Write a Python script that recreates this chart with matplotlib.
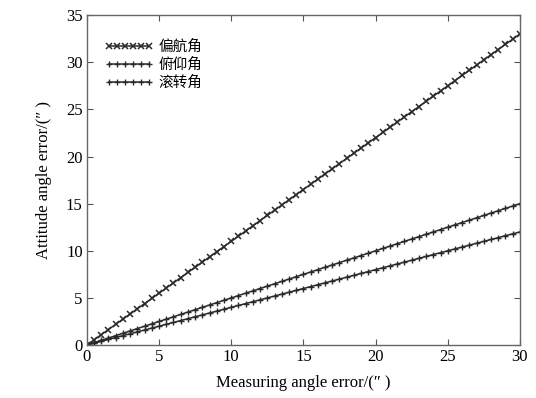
import matplotlib
matplotlib.use('Agg')
import matplotlib.pyplot as plt

plt.rcParams['font.family'] = ['Liberation Serif', 'Noto Sans CJK SC', 'DejaVu Sans']

# measuring angle error (″)
x = [0, 0.5, 1, 1.5, 2, 2.5, 3, 3.5, 4, 4.5, 5, 5.5, 6, 6.5, 7, 7.5, 8, 8.5, 9, 9.5,
     10, 10.5, 11, 11.5, 12, 12.5, 13, 13.5, 14, 14.5, 15, 15.5, 16, 16.5, 17, 17.5,
     18, 18.5, 19, 19.5, 20, 20.5, 21, 21.5, 22, 22.5, 23, 23.5, 24, 24.5, 25, 25.5,
     26, 26.5, 27, 27.5, 28, 28.5, 29, 29.5, 30]

# attitude angle error (″)
yaw = [0, 0.55, 1.1, 1.65, 2.2, 2.75, 3.3, 3.85, 4.4, 4.95, 5.5, 6.05, 6.6, 7.15, 7.7,
       8.25, 8.8, 9.35, 9.9, 10.45, 11, 11.55, 12.1, 12.65, 13.2, 13.75, 14.3, 14.85,
       15.4, 15.95, 16.5, 17.05, 17.6, 18.15, 18.7, 19.25, 19.8, 20.35, 20.9, 21.45,
       22, 22.55, 23.1, 23.65, 24.2, 24.75, 25.3, 25.85, 26.4, 26.95, 27.5, 28.05,
       28.6, 29.15, 29.7, 30.25, 30.8, 31.35, 31.9, 32.45, 33]
pitch = [0, 0.25, 0.5, 0.75, 1, 1.25, 1.5, 1.75, 2, 2.25, 2.5, 2.75, 3, 3.25, 3.5,
         3.75, 4, 4.25, 4.5, 4.75, 5, 5.25, 5.5, 5.75, 6, 6.25, 6.5, 6.75, 7, 7.25,
         7.5, 7.75, 8, 8.25, 8.5, 8.75, 9, 9.25, 9.5, 9.75, 10, 10.25, 10.5, 10.75,
         11, 11.25, 11.5, 11.75, 12, 12.25, 12.5, 12.75, 13, 13.25, 13.5, 13.75, 14,
         14.25, 14.5, 14.75, 15]
roll = [0, 0.2, 0.4, 0.6, 0.8, 1, 1.2, 1.4, 1.6, 1.8, 2, 2.2, 2.4, 2.6, 2.8, 3, 3.2,
        3.4, 3.6, 3.8, 4, 4.2, 4.4, 4.6, 4.8, 5, 5.2, 5.4, 5.6, 5.8, 6, 6.2, 6.4, 6.6,
        6.8, 7, 7.2, 7.4, 7.6, 7.8, 8, 8.2, 8.4, 8.6, 8.8, 9, 9.2, 9.4, 9.6, 9.8, 10,
        10.2, 10.4, 10.6, 10.8, 11, 11.2, 11.4, 11.6, 11.8, 12]

labels = ['偏航角', '俯仰角', '滚转角']

fig = plt.figure(figsize=(5.36, 3.98), dpi=100)
ax = fig.add_axes([0.162, 0.133, 0.808, 0.829])

line_color = '#2a2a2a'
ax.plot(x, yaw, color=line_color, lw=1.1, marker='x', ms=4, mew=1.1, label=labels[0])
ax.plot(x, pitch, color=line_color, lw=1.1, marker='+', ms=5, mew=1.0, label=labels[1])
ax.plot(x, roll, color=line_color, lw=1.1, marker='+', ms=5, mew=1.0, label=labels[2])

ax.set_xlim(0, 30)
ax.set_ylim(0, 35)
ax.set_xticks([0, 5, 10, 15, 20, 25, 30])
ax.set_yticks([0, 5, 10, 15, 20, 25, 30, 35])
ax.tick_params(direction='in', top=True, right=True, labelsize=12, length=4,
               color='#555555', pad=3)
for s in ax.spines.values():
    s.set_color('#666666')
    s.set_linewidth(1.0)

ax.set_xlabel('Measuring angle error/(″ )', fontsize=12, labelpad=7)
ax.set_ylabel('Attitude angle error/(″ )', fontsize=12, labelpad=10)

leg = ax.legend(loc='upper left', frameon=False, fontsize=10.5, handlelength=3.4,
                numpoints=6, handletextpad=0.3, labelspacing=0.25,
                bbox_to_anchor=(0.01, 0.965))
for t in leg.get_texts():
    t.set_family(['Noto Sans CJK SC', 'DejaVu Sans'])

fig.savefig('out.png', dpi=100)
